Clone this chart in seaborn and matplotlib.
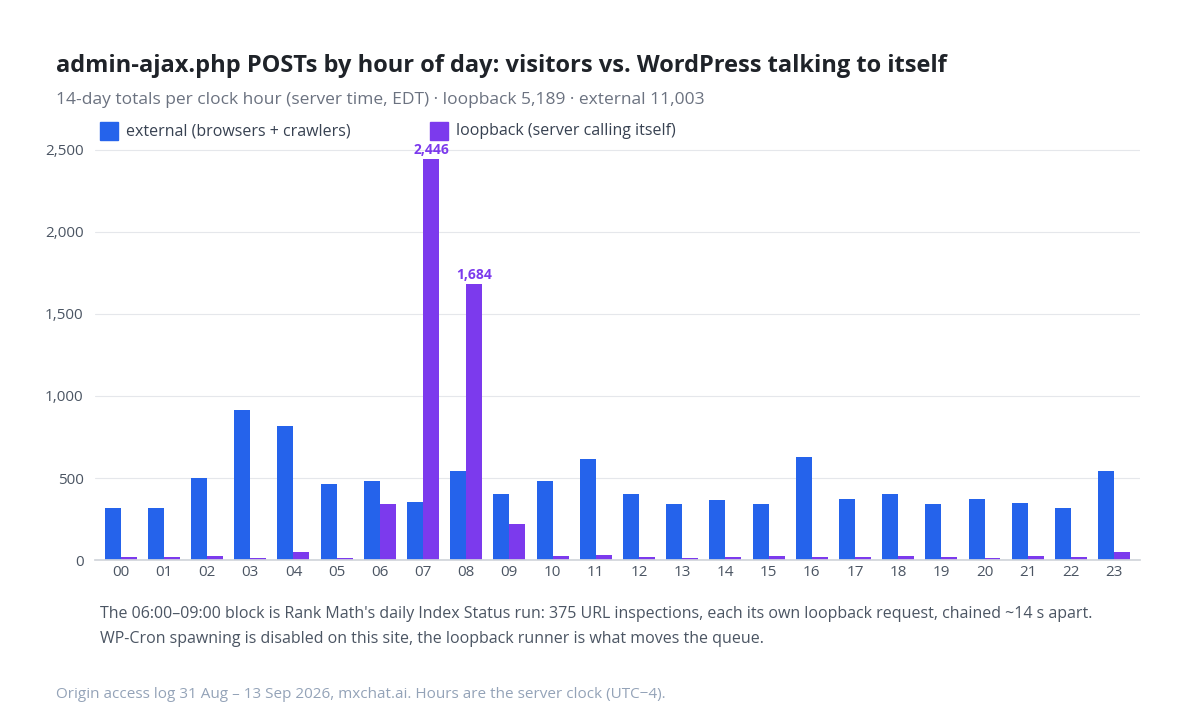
import matplotlib
matplotlib.use("Agg")
import matplotlib.pyplot as plt
import seaborn as sns
import pandas as pd

hours = [f"{h:02d}" for h in range(24)]
external = [320, 315, 500, 915, 820, 465, 480, 355, 545, 400, 480, 615,
            405, 345, 365, 340, 630, 375, 405, 345, 370, 350, 320, 543]
loopback = [22, 20, 28, 15, 52, 16, 345, 2446, 1684, 218, 26, 32,
            20, 15, 22, 28, 22, 22, 25, 20, 15, 28, 20, 48]
series_names = ["external (browsers + crawlers)", "loopback (server calling itself)"]
colors = ["#2563eb", "#7c3aed"]

df = pd.DataFrame({
    "hour": hours * 2,
    "count": external + loopback,
    "series": [series_names[0]] * 24 + [series_names[1]] * 24,
})

sns.set_theme(style="white")
plt.rcParams["font.family"] = ["Open Sans", "DejaVu Sans"]

fig = plt.figure(figsize=(12, 7.2), dpi=100)
ax = fig.add_axes([0.079, 0.222, 0.871, 0.577])
sns.barplot(data=df, x="hour", y="count", hue="series", palette=colors,
            ax=ax, width=0.74, saturation=1, legend=False, linewidth=0)
ax.set_ylim(0, 2530)
ax.set_yticks([0, 500, 1000, 1500, 2000, 2500])
ax.set_yticklabels(["0", "500", "1,000", "1,500", "2,000", "2,500"])
ax.yaxis.grid(True, color="#e5e7eb", lw=0.8)
ax.set_axisbelow(True)
for s in ["top", "right", "left"]:
    ax.spines[s].set_visible(False)
ax.spines["bottom"].set_color("#d1d5db")
ax.tick_params(axis="both", length=0, colors="#4b5563", labelsize=11)
ax.tick_params(axis="y", pad=8)
ax.set_xlabel("")
ax.set_ylabel("")
ax.set_xlim(-0.6, 23.6)

cont = ax.containers[1]
for i in (7, 8):
    b = cont[i]
    ax.text(b.get_x() + b.get_width() / 2, b.get_height() + 12, f"{loopback[i]:,}",
            ha="center", va="bottom", fontsize=10, fontweight="bold", color="#7c3aed")

fig.text(0.047, 0.9, "admin-ajax.php POSTs by hour of day: visitors vs. WordPress talking to itself",
         fontsize=17, fontweight="bold", color="#1f2329")
fig.text(0.047, 0.855, "14-day totals per clock hour (server time, EDT) · loopback 5,189 · external 11,003",
         fontsize=12.5, color="#6b7280")

for x0, c, name in [(0.083, colors[0], series_names[0]), (0.358, colors[1], series_names[1])]:
    fig.patches.append(plt.Rectangle((x0, 0.806), 0.015, 0.025, transform=fig.transFigure,
                                     color=c, figure=fig))
    fig.text(x0 + 0.022, 0.818, name, fontsize=11.5, color="#374151", va="center")

fig.text(0.083, 0.142, "The 06:00–09:00 block is Rank Math's daily Index Status run: 375 URL inspections, each its own loopback request, chained ~14 s apart.",
         fontsize=11.5, color="#4b5563")
fig.text(0.083, 0.107, "WP-Cron spawning is disabled on this site, the loopback runner is what moves the queue.",
         fontsize=11.5, color="#4b5563")
fig.text(0.047, 0.031, "Origin access log 31 Aug – 13 Sep 2026, mxchat.ai. Hours are the server clock (UTC−4).",
         fontsize=11, color="#94a3b8")

fig.savefig("out.png", dpi=100, facecolor="white")
